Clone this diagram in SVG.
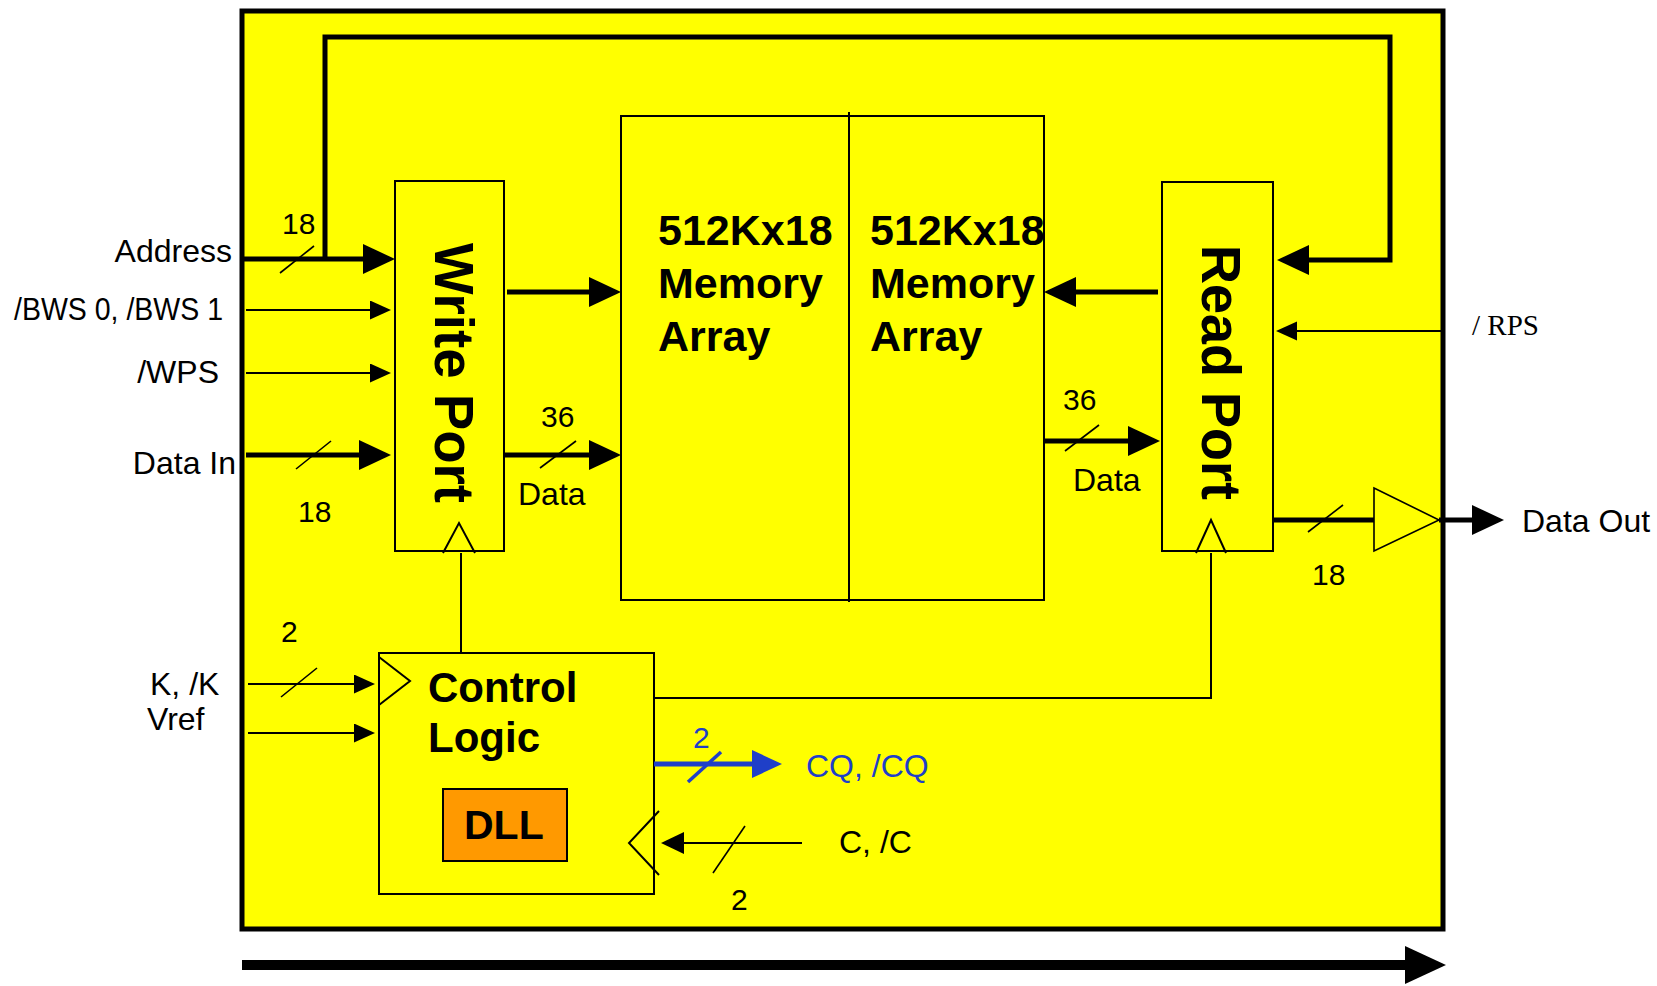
<svg xmlns="http://www.w3.org/2000/svg" width="1657" height="986" viewBox="0 0 1657 986">
<defs>
<style>
.t{font-family:"Liberation Sans",Arial,sans-serif;font-size:32px;fill:#000}
.n{font-family:"Liberation Sans",Arial,sans-serif;font-size:30px;fill:#000}
.s{font-family:"Liberation Serif","Times New Roman",serif;font-size:29px;fill:#000}
.b{font-family:"Liberation Sans",Arial,sans-serif;font-weight:bold;fill:#000}
.blue{fill:#1f3fc8}
.box{fill:#ffff00;stroke:#000;stroke-width:2}
.thick{fill:none;stroke:#000;stroke-width:5}
.thin{fill:none;stroke:#000;stroke-width:2}
.sl{fill:none;stroke:#000;stroke-width:1.6}
</style>
<marker id="ab" markerUnits="userSpaceOnUse" markerWidth="34" markerHeight="32" refX="0" refY="15" orient="auto"><path d="M0,0 L32,15 L0,30 z" fill="#000"/></marker>
<marker id="as" markerUnits="userSpaceOnUse" markerWidth="23" markerHeight="20" refX="0" refY="9.5" orient="auto"><path d="M0,0 L21,9.5 L0,19 z" fill="#000"/></marker>
<marker id="ac" markerUnits="userSpaceOnUse" markerWidth="25" markerHeight="24" refX="0" refY="11" orient="auto"><path d="M0,0 L23,11 L0,22 z" fill="#000"/></marker>
<marker id="abl" markerUnits="userSpaceOnUse" markerWidth="32" markerHeight="30" refX="0" refY="14" orient="auto"><path d="M0,0 L30,14 L0,28 z" fill="#1f3fc8"/></marker>
<marker id="abig" markerUnits="userSpaceOnUse" markerWidth="44" markerHeight="40" refX="0" refY="19" orient="auto"><path d="M0,0 L41,19 L0,38 z" fill="#000"/></marker>
</defs>

<g id="chip">
<rect x="242" y="11" width="1201" height="918" fill="#ffff00" stroke="#000" stroke-width="5"/>
</g>

<g id="write-port">
<rect class="box" x="395" y="181" width="109" height="370"/>
<text class="b" font-size="56" transform="translate(435,243) rotate(90)" textLength="260" lengthAdjust="spacingAndGlyphs">Write Port</text>
<polyline class="thin" points="443,553 459,523 475,553"/>
</g>

<g id="memory-array">
<rect class="box" x="621" y="116" width="423" height="484"/>
<line class="thin" x1="849" y1="112" x2="849" y2="602"/>
<text class="b" font-size="43" x="658" y="245">512Kx18</text>
<text class="b" font-size="43" x="658" y="298">Memory</text>
<text class="b" font-size="43" x="658" y="351">Array</text>
<text class="b" font-size="43" x="870" y="245">512Kx18</text>
<text class="b" font-size="43" x="870" y="298">Memory</text>
<text class="b" font-size="43" x="870" y="351">Array</text>
</g>

<g id="read-port">
<rect class="box" x="1162" y="182" width="111" height="369"/>
<text class="b" font-size="56" transform="translate(1202,245) rotate(90)" textLength="255" lengthAdjust="spacingAndGlyphs">Read Port</text>
<polyline class="thin" points="1196,553 1211,520 1226,553"/>
</g>

<g id="output-buffer">
<polygon points="1374,488 1439,520 1374,551" fill="#ffff00" stroke="#000" stroke-width="1.6"/>
</g>

<g id="control-logic">
<rect class="box" x="379" y="653" width="275" height="241"/>
<text class="b" font-size="42" x="428" y="702">Control</text>
<text class="b" font-size="42" x="428" y="752">Logic</text>
<polyline class="thin" points="379,657 410,681 379,705"/>
<polyline class="thin" points="659,811 629,843 659,875"/>
</g>

<g id="dll">
<rect x="443" y="789" width="124" height="72" fill="#ff9900" stroke="#000" stroke-width="2"/>
<text class="b" font-size="41" x="464" y="839">DLL</text>
</g>

<g id="connectors">
<path class="thick" d="M242,259 H363" marker-end="url(#ab)"/>
<path class="thick" d="M325,259 V37 H1390 V260 H1309" marker-end="url(#ab)"/>
<path class="thin" d="M246,310 H370" marker-end="url(#as)"/>
<path class="thin" d="M246,373 H370" marker-end="url(#as)"/>
<path class="thick" d="M246,455 H359" marker-end="url(#ab)"/>
<path class="thick" d="M507,292 H589" marker-end="url(#ab)"/>
<path class="thick" d="M504,455 H589" marker-end="url(#ab)"/>
<path class="thick" d="M1158,292 H1076" marker-end="url(#ab)"/>
<path class="thick" d="M1044,441 H1128" marker-end="url(#ab)"/>
<path class="thin" d="M1443,331 H1297" marker-end="url(#as)"/>
<path class="thick" d="M1273,520 H1374"/>
<path class="thick" d="M1439,520 H1472" marker-end="url(#ab)"/>
<path class="thin" d="M461,553 V653"/>
<path class="thin" d="M654,698 H1211 V553"/>
<path class="thin" d="M248,684 H354" marker-end="url(#as)"/>
<path class="thin" d="M248,733 H354" marker-end="url(#as)"/>
<path d="M654,764 H752" fill="none" stroke="#1f3fc8" stroke-width="5" marker-end="url(#abl)"/>
<path class="thin" d="M802,843 H684" marker-end="url(#ac)"/>
<path d="M242,965 H1405" fill="none" stroke="#000" stroke-width="10" marker-end="url(#abig)"/>
<line class="sl" x1="280" y1="273" x2="314" y2="246"/>
<line class="sl" x1="296" y1="469" x2="331" y2="441"/>
<line class="sl" x1="540" y1="468" x2="576" y2="441"/>
<line class="sl" x1="1065" y1="451" x2="1099" y2="425"/>
<line class="sl" x1="1308" y1="532" x2="1343" y2="505"/>
<line class="sl" x1="281" y1="697" x2="317" y2="668"/>
<line x1="688" y1="782" x2="721" y2="752" stroke="#1f3fc8" stroke-width="3.5"/>
<line class="sl" x1="713" y1="873" x2="745" y2="826"/>
</g>

<g id="labels">
<text class="t" x="232" y="262" text-anchor="end">Address</text>
<text class="n" x="282" y="234">18</text>
<text class="t" x="14" y="320" font-size="29" textLength="209" lengthAdjust="spacingAndGlyphs">/BWS 0, /BWS 1</text>
<text class="t" x="219" y="383" text-anchor="end">/WPS</text>
<text class="t" x="236" y="474" text-anchor="end">Data In</text>
<text class="n" x="298" y="522">18</text>
<text class="n" x="541" y="427">36</text>
<text class="t" x="518" y="505">Data</text>
<text class="n" x="1063" y="410">36</text>
<text class="t" x="1073" y="491">Data</text>
<text class="s" x="1472" y="335">/ RPS</text>
<text class="t" x="1522" y="532">Data Out</text>
<text class="n" x="1312" y="585">18</text>
<text class="n" x="281" y="642">2</text>
<text class="t" x="150" y="695">K, /K</text>
<text class="t" x="147" y="730">Vref</text>
<text class="n blue" x="693" y="748">2</text>
<text class="t blue" x="806" y="777">CQ, /CQ</text>
<text class="t" x="839" y="853">C, /C</text>
<text class="n" x="731" y="910">2</text>
</g>
</svg>
